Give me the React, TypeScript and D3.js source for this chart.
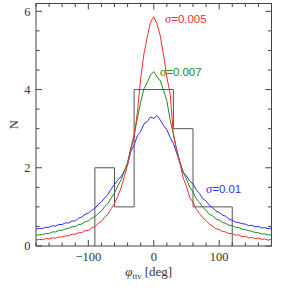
import React, { useEffect, useRef } from 'react';
import * as d3 from 'd3';

// phi grid: -180..180 every 5 deg
const phiStart = -180;
const phiStep = 5;

const redValues = [
    0.15, 0.17, 0.16, 0.19, 0.18, 0.21, 0.2, 0.23, 0.23, 0.26, 0.26, 0.3, 0.3, 0.34, 0.34, 0.39, 0.4, 0.46, 0.49,
    0.58, 0.63, 0.74, 0.81, 0.96, 1.08, 1.27, 1.48, 1.77, 2.08, 2.47, 2.78, 3.42, 4.28, 4.92, 5.33, 5.72, 5.86,
    5.68, 5.37, 4.88, 4.32, 3.9, 2.85, 2.44, 2.12, 1.74, 1.52, 1.24, 1.12, 0.94, 0.83, 0.72, 0.65, 0.56, 0.51,
    0.44, 0.42, 0.37, 0.36, 0.32, 0.32, 0.28, 0.28, 0.24, 0.25, 0.21, 0.22, 0.19, 0.2, 0.17, 0.18, 0.15, 0.17
];
const greenValues = [
    0.27, 0.29, 0.29, 0.32, 0.32, 0.36, 0.36, 0.4, 0.4, 0.44, 0.45, 0.49, 0.5, 0.55, 0.56, 0.62, 0.64, 0.71, 0.75,
    0.83, 0.89, 1.01, 1.09, 1.23, 1.36, 1.53, 1.69, 1.91, 2.14, 2.52, 2.84, 3.27, 3.68, 4.02, 4.18, 4.37, 4.46,
    4.33, 4.22, 3.98, 3.72, 3.23, 2.86, 2.48, 2.16, 1.89, 1.71, 1.51, 1.38, 1.21, 1.11, 0.99, 0.91, 0.81, 0.77,
    0.69, 0.66, 0.6, 0.58, 0.53, 0.52, 0.48, 0.47, 0.43, 0.42, 0.39, 0.38, 0.34, 0.34, 0.31, 0.31, 0.28, 0.29
];
const blueValues = [
    0.43, 0.45, 0.45, 0.48, 0.48, 0.52, 0.51, 0.55, 0.55, 0.59, 0.59, 0.64, 0.64, 0.71, 0.74, 0.81, 0.84, 0.91, 0.96,
    1.06, 1.13, 1.23, 1.32, 1.46, 1.57, 1.69, 1.77, 1.92, 2.08, 2.42, 2.58, 2.82, 2.93, 3.12, 3.18, 3.3, 3.26,
    3.34, 3.22, 3.08, 2.97, 2.78, 2.62, 2.38, 2.12, 1.88, 1.79, 1.66, 1.59, 1.44, 1.34, 1.21, 1.15, 1.04, 0.98,
    0.89, 0.86, 0.79, 0.76, 0.69, 0.66, 0.61, 0.6, 0.57, 0.56, 0.52, 0.53, 0.49, 0.5, 0.46, 0.47, 0.44, 0.46
];

// observed histogram (30 deg bins)
const histEdges = [-90, -60, -30, 0, 30, 60, 90, 120];
const histCounts = [2, 1, 4, 4, 3, 1, 1];

const seriesLabels = ['σ', '=0.005', '=0.007', '=0.01'];
const xTickValues = [-100, 0, 100];
const yTickValues = [0, 2, 4, 6];

const width = 287;
const height = 290;

export default function App() {
    const ref = useRef<SVGSVGElement>(null);

    useEffect(() => {
        const svg = d3.select(ref.current!);
        svg.selectAll('*').remove();

        const left = 36;
        const right = 271.5;
        const top = 3.5;
        const bottom = 246;

        const x = d3.scaleLinear().domain([-180, 180]).range([left, right]);
        const y = d3.scaleLinear().domain([0, 6.2]).range([bottom, top]);

        const serif = '"Liberation Serif", "DejaVu Serif", serif';
        const sans = '"Liberation Sans", Arial, sans-serif';

        const clip = svg.append('clipPath').attr('id', 'plot-clip');
        clip.append('rect').attr('x', left).attr('y', top).attr('width', right - left).attr('height', bottom - top);

        // histogram outline
        const histPts: [number, number][] = [[histEdges[0], 0]];
        histCounts.forEach((c, i) => {
            histPts.push([histEdges[i], c]);
            histPts.push([histEdges[i + 1], c]);
        });
        histPts.push([histEdges[histEdges.length - 1], 0]);
        svg.append('path')
            .attr('d', d3.line().x((d) => x(d[0])).y((d) => y(d[1]))(histPts)!)
            .attr('fill', 'none')
            .attr('stroke', '#555')
            .attr('stroke-width', 1);

        // curves
        const series = [
            { values: blueValues, color: '#2b2bff' },
            { values: greenValues, color: '#1f8a1f' },
            { values: redValues, color: '#ff2a2a' }
        ];
        const line = d3
            .line<number>()
            .x((_, i) => x(phiStart + i * phiStep))
            .y((d) => y(d));
        series.forEach((s) => {
            svg.append('path')
                .attr('d', line(s.values)!)
                .attr('fill', 'none')
                .attr('stroke', s.color)
                .attr('stroke-width', 1)
                .attr('clip-path', 'url(#plot-clip)');
        });

        // frame
        svg.append('rect')
            .attr('x', left)
            .attr('y', top)
            .attr('width', right - left)
            .attr('height', bottom - top)
            .attr('fill', 'none')
            .attr('stroke', '#444')
            .attr('stroke-width', 1);

        // ticks, inward on all four sides
        const ticks = svg.append('g').attr('stroke', '#444').attr('stroke-width', 1);
        d3.range(-180, 181, 20).forEach((t) => {
            const len = xTickValues.includes(t) ? 6 : 3.5;
            ticks.append('line').attr('x1', x(t)).attr('x2', x(t)).attr('y1', bottom).attr('y2', bottom - len);
            ticks.append('line').attr('x1', x(t)).attr('x2', x(t)).attr('y1', top).attr('y2', top + len);
        });
        d3.range(0, 6.01, 0.5).forEach((t) => {
            const len = t % 2 === 0 ? 6 : 3.5;
            ticks.append('line').attr('x1', left).attr('x2', left + len).attr('y1', y(t)).attr('y2', y(t));
            ticks.append('line').attr('x1', right).attr('x2', right - len).attr('y1', y(t)).attr('y2', y(t));
        });

        // tick labels
        svg.append('g')
            .selectAll('text')
            .data(xTickValues)
            .join('text')
            .attr('x', (d) => x(d))
            .attr('y', 261)
            .attr('text-anchor', 'middle')
            .attr('font-family', serif)
            .attr('font-size', 12.5)
            .attr('fill', '#333')
            .text((d) => (d < 0 ? `\u2212${-d}` : `${d}`));
        svg.append('g')
            .selectAll('text')
            .data(yTickValues)
            .join('text')
            .attr('x', 30.5)
            .attr('y', (d) => y(d))
            .attr('dy', '0.35em')
            .attr('text-anchor', 'end')
            .attr('font-family', serif)
            .attr('font-size', 12.5)
            .attr('fill', '#333')
            .text((d) => `${d}`);

        // axis titles
        svg.append('text')
            .attr('transform', `translate(18,${(top + bottom) / 2}) rotate(-90)`)
            .attr('text-anchor', 'middle')
            .attr('font-family', serif)
            .attr('font-size', 12.5)
            .attr('fill', '#333')
            .text('N');
        const xt = svg.append('text')
            .attr('x', (left + right) / 2 - 5)
            .attr('y', 276)
            .attr('text-anchor', 'middle')
            .attr('font-family', serif)
            .attr('font-size', 13)
            .attr('fill', '#333');
        xt.append('tspan').attr('font-style', 'italic').text('φ');
        xt.append('tspan').attr('font-size', 8.5).attr('dy', 3).text('ttv');
        xt.append('tspan').attr('dy', -3).text(' [deg]');

        // series labels
        const labels = [
            { x: 165, y: 23, text: seriesLabels[1], color: '#ff3030' },
            { x: 160, y: 76, text: seriesLabels[2], color: '#228b22' },
            { x: 206, y: 193, text: seriesLabels[3], color: '#3333ff' }
        ];
        labels.forEach((l) => {
            const t = svg.append('text')
                .attr('x', l.x)
                .attr('y', l.y)
                .attr('font-size', 11.5)
                .attr('fill', l.color);
            t.append('tspan').attr('font-family', serif).attr('font-style', 'italic').attr('font-size', 12.5).text(seriesLabels[0]);
            t.append('tspan').attr('font-family', sans).text(l.text);
        });
    }, []);

    return (
        <svg
            ref={ref}
            width={width}
            height={height}
            style={{ position: 'absolute', left: 0, top: 0, background: 'white' }}
        />
    );
}
